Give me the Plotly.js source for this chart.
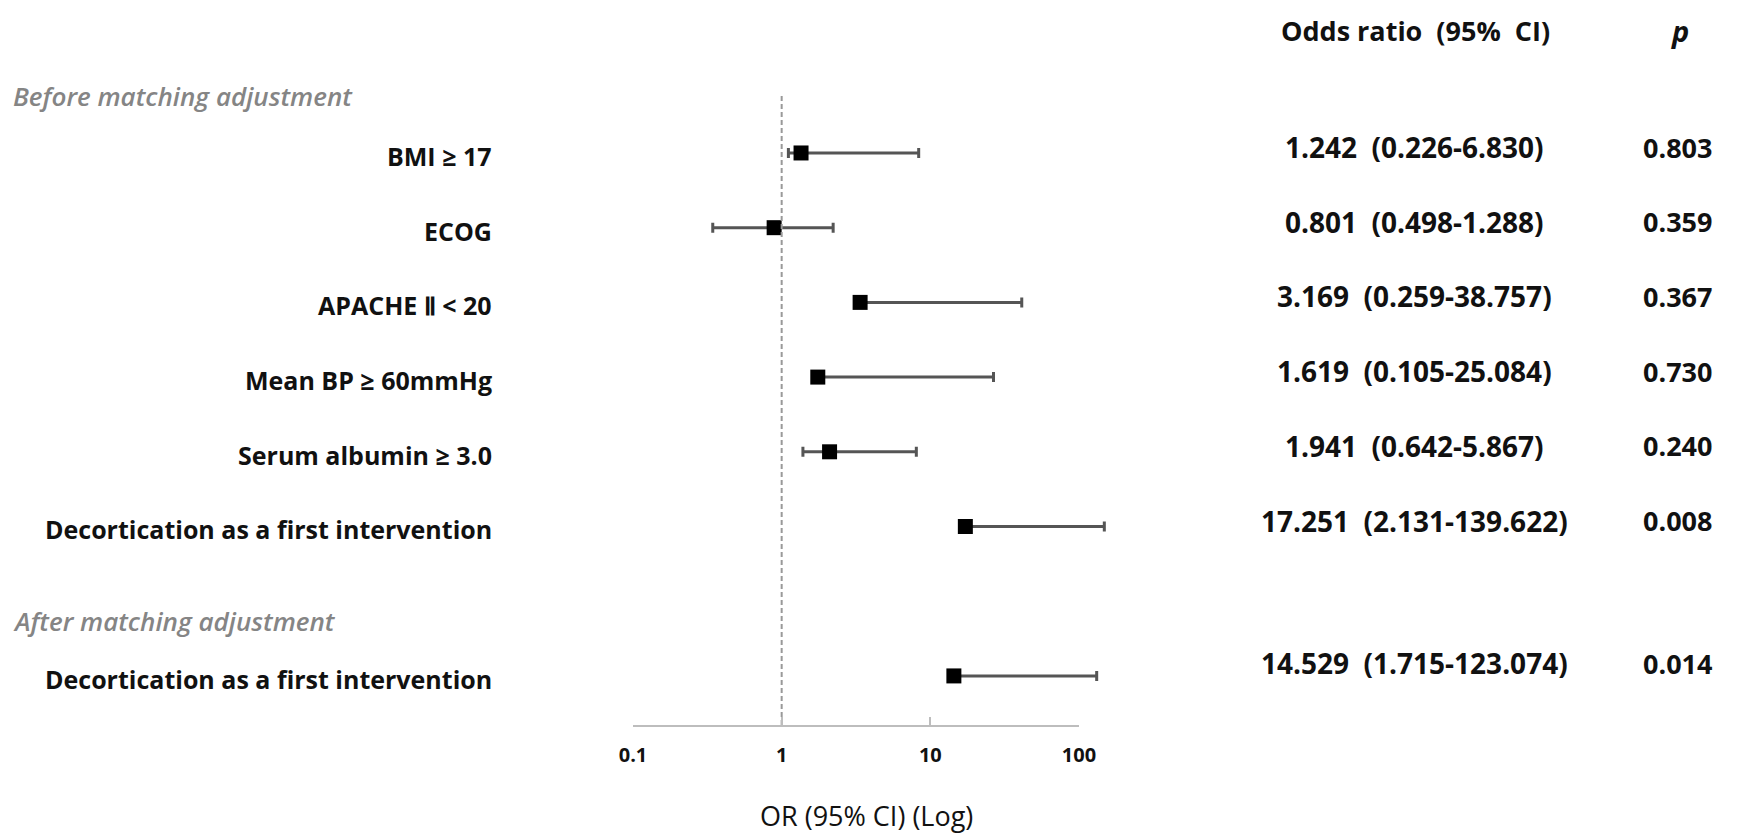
<!DOCTYPE html>
<html>
<head>
<meta charset="utf-8">
<script src="https://cdn.plot.ly/plotly-3.0.1.min.js"></script>
<style>
html,body{margin:0;padding:0;background:#fff;}
#chart{width:1742px;height:837px;}
</style>
</head>
<body>
<div id="chart"></div>
<script>
// ---- data ----
const labels = [
  "BMI \u2265 17",
  "ECOG",
  "APACHE \u2161 < 20",
  "Mean BP \u2265 60mmHg",
  "Serum albumin \u2265 3.0",
  "Decortication as a first intervention",
  "Decortication as a first intervention"
];
const rowPos = [0, 1, 2, 3, 4, 5, 7];
const groupTitles = ["Before matching adjustment", "After matching adjustment"];
const groupPos = [-0.76, 6.27];
const orPlot = [1.35, 0.89, 3.37, 1.75, 2.10, 17.2, 14.4];
const loPlot = [1.11, 0.344, 3.37, 1.75, 1.39, 17.2, 14.4];
const hiPlot = [8.35, 2.22, 41.2, 26.6, 8.05, 148, 131.5];
// table text
const orText = ["1.242", "0.801", "3.169", "1.619", "1.941", "17.251", "14.529"];
const ciText = ["0.226-6.830", "0.498-1.288", "0.259-38.757", "0.105-25.084", "0.642-5.867", "2.131-139.622", "1.715-123.074"];
const pText = ["0.803", "0.359", "0.367", "0.730", "0.240", "0.008", "0.014"];
const tickVals = [0.1, 1, 10, 100];
const tickText = ["0.1", "1", "10", "100"];
const nullValue = 1;

// ---- layout helpers ----
const W = 1742, H = 837;
const M = {l: 560, r: 612, t: 95, b: 112};
const PW = W - M.l - M.r;
const PH = H - M.t - M.b;
const px = x => (x - M.l) / PW;
const py = y => 1 - (y - M.t) / PH;
const yRange = [7.657, -0.776];

const FONT = "'Open Sans', 'Noto Sans', sans-serif";

const trace = {
  type: 'scatter',
  mode: 'markers',
  x: orPlot,
  y: rowPos,
  xaxis: 'x', yaxis: 'y',
  marker: {symbol: 'square', size: 15, color: '#000'},
  error_x: {
    type: 'data',
    symmetric: false,
    array: hiPlot.map((h, i) => h - orPlot[i]),
    arrayminus: loPlot.map((l, i) => orPlot[i] - l),
    color: '#555',
    thickness: 3,
    width: 5
  },
  hoverinfo: 'skip',
  showlegend: false
};

const refLine = {
  type: 'scatter',
  mode: 'lines',
  x: [nullValue, nullValue],
  y: [yRange[0], yRange[1]],
  xaxis: 'x2', yaxis: 'y',
  line: {color: '#999', width: 2, dash: '5px,3px'},
  hoverinfo: 'skip',
  showlegend: false
};

const annotations = [];
labels.forEach((t, i) => {
  annotations.push({
    text: t, xref: 'paper', x: px(494), xanchor: 'right',
    yref: 'y', y: rowPos[i] + 0.04, yanchor: 'middle', showarrow: false,
    font: {family: FONT, size: 25, color: '#111', weight: 'bold'}
  });
  annotations.push({
    text: orText[i] + '\u00a0\u00a0(' + ciText[i] + ')', xref: 'paper', x: px(1414), xanchor: 'center',
    yref: 'y', y: rowPos[i] - (i === 6 ? 0.17 : 0.08), yanchor: 'middle', showarrow: false,
    font: {family: FONT, size: 28, color: '#111', weight: 'bold'}
  });
  annotations.push({
    text: pText[i], xref: 'paper', x: px(1677), xanchor: 'center',
    yref: 'y', y: rowPos[i] - (i === 6 ? 0.17 : 0.08), yanchor: 'middle', showarrow: false,
    font: {family: FONT, size: 27, color: '#111', weight: 'bold'}
  });
});
groupTitles.forEach((t, i) => {
  annotations.push({
    text: '<i>' + t + '</i>', xref: 'paper', x: px(11), xanchor: 'left',
    yref: 'y', y: groupPos[i], yanchor: 'middle', showarrow: false,
    font: {family: FONT, size: 26, color: '#858585', weight: 600}
  });
});
annotations.push({
  text: 'Odds ratio\u00a0 (95%\u00a0 CI)', xref: 'paper', x: px(1415), xanchor: 'center',
  yref: 'paper', y: py(31), yanchor: 'middle', showarrow: false,
  font: {family: FONT, size: 27, color: '#111', weight: 'bold'}
});
annotations.push({
  text: '<i>p</i>', xref: 'paper', x: px(1680), xanchor: 'center',
  yref: 'paper', y: py(31), yanchor: 'middle', showarrow: false,
  font: {family: FONT, size: 29, color: '#111', weight: 'bold'}
});
annotations.push({
  text: 'OR (95% CI) (Log)', xref: 'paper', x: px(866), xanchor: 'center',
  yref: 'paper', y: py(815), yanchor: 'middle', showarrow: false,
  font: {family: FONT, size: 27, color: '#111', weight: 500}
});

const decade = 148.7;
const axLeftPx = 633, axRightPx = 1079;
const layout = {
  width: W, height: H,
  margin: M,
  paper_bgcolor: '#fff', plot_bgcolor: 'rgba(0,0,0,0)',
  xaxis: {
    type: 'log',
    domain: [0, 1],
    range: [Math.log10(tickVals[0]) - (axLeftPx - M.l) / decade,
            Math.log10(tickVals[tickVals.length - 1]) + (M.l + PW - axRightPx) / decade],
    visible: false, showgrid: false, zeroline: false
  },
  xaxis2: {
    type: 'log',
    anchor: 'y',
    domain: [px(axLeftPx), px(axRightPx)],
    range: [Math.log10(tickVals[0]), Math.log10(tickVals[tickVals.length - 1])],
    tickvals: tickVals, ticktext: tickText,
    ticks: 'inside', ticklen: 8, tickwidth: 2, tickcolor: '#bdbdbd',
    showline: true, linecolor: '#bdbdbd', linewidth: 2,
    showgrid: false, zeroline: false,
    ticklabelstandoff: 11,
    tickfont: {family: FONT, size: 20, color: '#111', weight: 'bold'}
  },
  yaxis: {
    range: yRange,
    visible: false, showgrid: false, zeroline: false
  },
  annotations: annotations,
  showlegend: false
};

Plotly.newPlot('chart', [refLine, trace], layout, {displayModeBar: false, staticPlot: true});
</script>
</body>
</html>
